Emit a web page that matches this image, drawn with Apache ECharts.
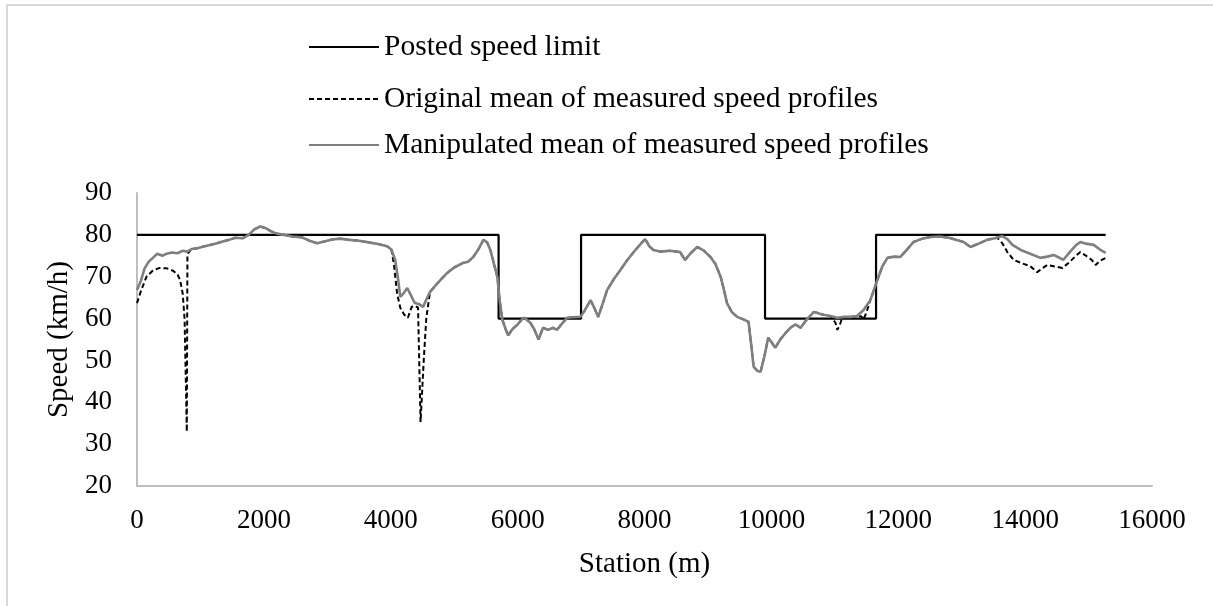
<!DOCTYPE html>
<html lang="en">

<head>
    <meta charset="UTF-8">
    <title>Speed profiles</title>
    <style>
        html, body { margin: 0; padding: 0; background: #fff; }
        #box { width: 1213px; height: 606px; }
    </style>
</head>

<body>
    <div id="box"></div>
</body>
<script src="https://cdn.jsdelivr.net/npm/echarts@6/dist/echarts.min.js"></script>
<script>
    // posted speed limit (step)
    var limitStation = [0, 5700, 5700, 7000, 7000, 9900, 9900, 11650, 11650, 15270];
    var limitSpeed = [80, 80, 60, 60, 80, 80, 60, 60, 80, 80];

    // manipulated mean (grey line)
    var manipStation = [0, 60, 120, 180, 250, 320, 400, 470, 550, 640, 720, 790, 860, 950, 1050, 1150, 1260, 1350, 1450, 1550,
        1670, 1760, 1850, 1940, 2030, 2120, 2200, 2320, 2450, 2600, 2720, 2840, 2950, 3080, 3200, 3350, 3500, 3650, 3800, 3940,
        4010, 4070, 4110, 4150, 4200, 4260, 4320, 4380, 4440, 4510, 4560, 4620, 4700, 4800, 4890, 5000, 5140, 5220, 5300, 5380,
        5460, 5520, 5570, 5620, 5680, 5720, 5760, 5810, 5850, 5920, 6000, 6090, 6140, 6200, 6260, 6330, 6400, 6480, 6560, 6620,
        6700, 6780, 6880, 6990, 7060, 7150, 7210, 7270, 7340, 7410, 7520, 7620, 7720, 7830, 7920, 8010, 8080, 8140, 8250, 8400,
        8560, 8640, 8720, 8830, 8930, 9040, 9120, 9200, 9250, 9300, 9380, 9460, 9560, 9640, 9680, 9720, 9780, 9830, 9890, 9950,
        10010, 10060, 10140, 10220, 10300, 10380, 10460, 10560, 10670, 10750, 10820, 10930, 11040, 11150, 11250, 11350, 11450, 11560, 11670, 11750,
        11830, 11930, 12030, 12140, 12240, 12380, 12510, 12650, 12800, 12920, 13030, 13140, 13250, 13400, 13520, 13640, 13720, 13800, 13930, 14080,
        14240, 14350, 14450, 14530, 14600, 14700, 14800, 14870, 14960, 15080, 15180, 15270];
    var manipSpeed = [66.8, 69, 72, 73.5, 74.5, 75.5, 75, 75.5, 75.8, 75.6, 76.2, 76, 76.6, 76.8, 77.2, 77.6, 78, 78.4, 78.8, 79.3,
        79.2, 80, 81.3, 82, 81.6, 80.8, 80.3, 80, 79.6, 79.4, 78.6, 78, 78.4, 78.9, 79.1, 78.8, 78.6, 78.2, 77.8, 77.3,
        76.5, 74, 70, 65.2, 66, 67.3, 65.5, 63.7, 63.5, 62.8, 64.5, 66.4, 67.8, 69.5, 70.9, 72.2, 73.3, 73.6, 74.7, 76.5,
        78.8, 78.2, 76.4, 73.5, 70, 64, 59.7, 57.5, 56, 57.5, 58.6, 60.2, 59.8, 59, 57.5, 55, 57.8, 57.3, 57.8, 57.3,
        58.8, 60.2, 60.3, 60.4, 62, 64.4, 62.5, 60.4, 63.5, 66.8, 69.5, 71.6, 73.8, 75.9, 77.5, 79, 77.2, 76.4, 76, 76.2,
        75.9, 74, 75.5, 77.1, 76.3, 74.7, 73, 70, 67, 63.7, 61.5, 60.4, 59.8, 59.2, 54, 48.5, 47.5, 47.3, 51, 55.4,
        54.2, 53, 55, 56.5, 57.8, 58.6, 57.8, 59.8, 61.6, 61.2, 60.9, 60.6, 60.2, 60.4, 60.4, 60.6, 62, 64.4, 69.2, 72.5,
        74.5, 74.8, 74.7, 76.5, 78.3, 79.1, 79.5, 79.6, 79.3, 78.8, 78.3, 77.1, 77.8, 78.8, 79.2, 79.7, 79, 77.6, 76.4, 75.5,
        74.5, 74.8, 75.2, 74.6, 74, 75.8, 77.5, 78.3, 77.9, 77.6, 76.5, 75.7];

    // original mean (dashed) - only where it leaves the grey line
    var origRanges = [[0, 800], [4020, 4615], [11000, 11120], [11400, 11520], [13550, 15270]];
    var origStation = [0, 60, 150, 250, 360, 470, 570, 640, 680, 720, 750, 770, 785, 795,
        4050, 4100, 4150, 4210, 4270, 4330, 4390, 4430, 4470, 4520, 4560, 4600,
        11010, 11040, 11080, 11110,
        11420, 11450, 11500,
        13560, 13640, 13720, 13820, 13950, 14080, 14190, 14270, 14350, 14450, 14590, 14700, 14800, 14870, 14960, 15050, 15110, 15180, 15270];
    var origSpeed = [63.7, 66.5, 70, 71.5, 72.1, 72, 71.4, 70.5, 69.2, 66, 60, 45, 33, 75.5,
        73, 66, 62.6, 61, 60.2, 62.8, 63, 62.6, 35.3, 50, 60, 64.4,
        59, 57.3, 58.5, 60,
        60.5, 59.7, 61.5,
        79.3, 78, 75.9, 74, 73.2, 72.5, 71.1, 72, 72.8, 72.5, 72.1, 73.5, 75, 75.9, 75, 74, 72.8, 73.8, 74.5];

    function zip(xs, ys) {
        return xs.map(function (x, i) { return [x, ys[i]]; });
    }

    function inRanges(x) {
        for (var i = 0; i < origRanges.length; i++) {
            if (x >= origRanges[i][0] && x <= origRanges[i][1]) return true;
        }
        return false;
    }

    var manipData = zip(manipStation, manipSpeed);
    var origData = manipData.filter(function (p) { return !inRanges(p[0]); })
        .concat(zip(origStation, origSpeed))
        .sort(function (a, b) { return a[0] - b[0]; });

    var serif = '"Liberation Serif", "DejaVu Serif", serif';

    var box = echarts.init(document.getElementById('box'));
    var legendText = { color: '#000', fontFamily: serif, fontSize: 29.5, lineHeight: 30 };
    function legendAt(name, top) {
        return {
            data: [name],
            left: 308,
            top: top,
            padding: 0,
            itemWidth: 70,
            itemHeight: 14,
            itemStyle: { opacity: 0 },
            textStyle: legendText
        };
    }
    var option = {
        backgroundColor: '#fff',
        animation: false,
        graphic: [{
            type: 'rect',
            shape: { x: 7, y: 5, width: 1240, height: 640 },
            style: { fill: 'none', stroke: '#d9d9d9', lineWidth: 2 }
        }],
        legend: [
            legendAt('Posted speed limit', 32),
            legendAt('Original mean of measured speed profiles', 84),
            legendAt('Manipulated mean of measured speed profiles', 130)
        ],
        grid: { left: 137, right: 61, top: 193, bottom: 120 },
        xAxis: {
            type: 'value',
            min: 0,
            max: 16000,
            interval: 2000,
            name: 'Station (m)',
            nameLocation: 'middle',
            nameGap: 64,
            nameTextStyle: { color: '#000', fontFamily: serif, fontSize: 29 },
            axisLine: { lineStyle: { color: '#bfbfbf', width: 2 } },
            axisTick: { show: false },
            splitLine: { show: false },
            axisLabel: {
                color: '#000', fontFamily: serif, fontSize: 27, margin: 21,
                formatter: function (v) { return String(v); }
            }
        },
        yAxis: {
            type: 'value',
            min: 20,
            max: 90,
            interval: 10,
            name: 'Speed (km/h)',
            nameLocation: 'middle',
            nameGap: 63,
            nameTextStyle: { color: '#000', fontFamily: serif, fontSize: 29 },
            axisLine: { show: true, lineStyle: { color: '#bfbfbf', width: 2 } },
            axisTick: { show: false },
            splitLine: { show: false },
            axisLabel: { color: '#000', fontFamily: serif, fontSize: 27, margin: 25 }
        },
        series: [
            {
                name: 'Posted speed limit',
                type: 'line',
                symbol: 'none',
                data: zip(limitStation, limitSpeed),
                lineStyle: { color: '#000', width: 2.2 },
                itemStyle: { color: '#000' }
            },
            {
                name: 'Original mean of measured speed profiles',
                type: 'line',
                symbol: 'none',
                data: origData,
                lineStyle: { color: '#000', width: 2, type: [5, 3] },
                itemStyle: { color: '#000' }
            },
            {
                name: 'Manipulated mean of measured speed profiles',
                type: 'line',
                symbol: 'none',
                data: manipData,
                lineStyle: { color: '#7f7f7f', width: 2.6 },
                itemStyle: { color: '#7f7f7f' }
            }
        ]
    };
    box.setOption(option);
</script>

</html>
